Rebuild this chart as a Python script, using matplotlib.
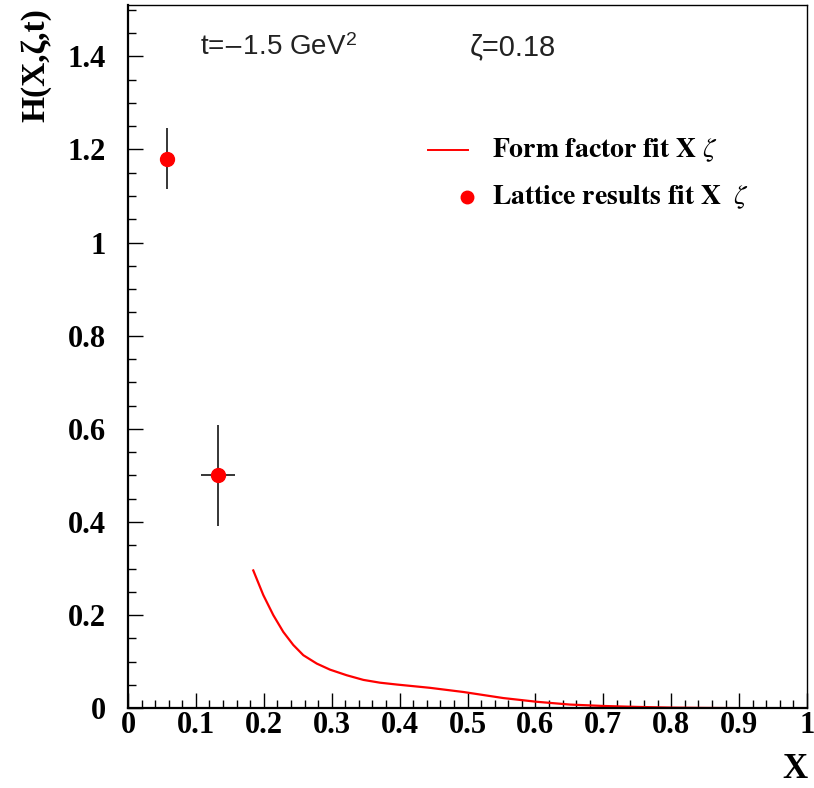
import matplotlib
matplotlib.use("Agg")
import matplotlib.pyplot as plt
from matplotlib.ticker import MultipleLocator

plt.rcParams["mathtext.fontset"] = "stix"

# Form factor fit curve H(X, zeta, t)
fit_x = [0.1845, 0.1993, 0.214, 0.2287, 0.2434, 0.2582, 0.278, 0.2975, 0.322,
         0.3466, 0.371, 0.396, 0.4445, 0.494, 0.5527, 0.602, 0.651, 0.700,
         0.749, 0.80, 0.85, 0.90, 0.954]
fit_y = [0.296, 0.243, 0.200, 0.164, 0.136, 0.114, 0.096, 0.083, 0.071,
         0.061, 0.055, 0.051, 0.044, 0.035, 0.022, 0.014, 0.008, 0.005,
         0.003, 0.0015, 0.0008, 0.0004, 0.0]

# Lattice results
lat_x = [0.057, 0.132]
lat_y = [1.18, 0.50]
lat_xerr = [0.0, 0.025]
lat_yerr = [0.066, 0.109]

x_ticks = [i / 10 for i in range(11)]
x_labels = ["0", "0.1", "0.2", "0.3", "0.4", "0.5", "0.6", "0.7", "0.8",
            "0.9", "1"]
y_ticks = [0, 0.2, 0.4, 0.6, 0.8, 1.0, 1.2, 1.4]
y_labels = ["0", "0.2", "0.4", "0.6", "0.8", "1", "1.2", "1.4"]

fig = plt.figure(figsize=(8.14, 7.88), dpi=100)
ax = fig.add_axes([128 / 814, 1 - 708.3 / 788, 679 / 814, 703.3 / 788])

ax.plot(fit_x, fit_y, color="#ff0000", lw=1.6, solid_joinstyle="round")
ax.errorbar(lat_x, lat_y, xerr=lat_xerr, yerr=lat_yerr, fmt="none",
            ecolor="black", elinewidth=1.1, capsize=0, zorder=2)
ax.plot(lat_x, lat_y, "o", color="#ff0000", ms=10, mec="#ff0000", zorder=3)

ax.set_xlim(0, 1)
ax.set_ylim(0, 1.51)
ax.xaxis.set_minor_locator(MultipleLocator(0.02))
ax.yaxis.set_minor_locator(MultipleLocator(0.05))
ax.set_xticks(x_ticks)
ax.set_xticklabels(x_labels)
ax.set_yticks(y_ticks)
ax.set_yticklabels(y_labels)

ax.tick_params(which="both", direction="in", top=False, right=False,
               color="black")
ax.tick_params(which="major", length=11, width=1.0)
ax.tick_params(which="minor", length=5.5, width=1.0)
ax.tick_params(axis="x", pad=2)
ax.tick_params(axis="y", pad=16)
for lab in ax.get_xticklabels() + ax.get_yticklabels():
    lab.set_fontfamily("Liberation Serif")
    lab.set_fontweight("bold")
    lab.set_fontsize(22)

for side in ("left", "bottom"):
    ax.spines[side].set_linewidth(1.6)
for side in ("top", "right"):
    ax.spines[side].set_linewidth(1.0)

# Axis titles
fig.text(36 / 814, 1 - 8 / 788, "H(X,ζ,t)", rotation=90, ha="center", va="top",
         fontfamily="Liberation Serif", fontweight="bold", fontsize=24)
fig.text(795 / 814, 1 - 770 / 788, "X", ha="center", va="center",
         fontfamily="Liberation Serif", fontweight="bold", fontsize=25)

# Kinematics annotation
ax.text(0.106, 0.94, "t=$-$1.5 GeV$^{\\mathregular{2}}$", transform=ax.transAxes,
        ha="left", va="center", fontfamily="Liberation Sans", fontsize=20,
        color="#222222")
ax.text(0.504, 0.94, "ζ=0.18", transform=ax.transAxes, ha="left", va="center",
        fontfamily="Liberation Sans", fontsize=21, color="#222222")

# Legend
ax.plot([0.4418, 0.5007], [0.7937, 0.7937], color="#ff0000", lw=1.4,
        transform=ax.transAxes, clip_on=False)
ax.plot([0.4993], [0.7269], "o", color="#ff0000", ms=9,
        transform=ax.transAxes, clip_on=False)
ax.text(0.536, 0.7937, r"$\mathbf{Form\ factor\ fit\ X}\ \zeta$",
        transform=ax.transAxes, ha="left", va="center", fontsize=20)
ax.text(0.536, 0.7269, r"$\mathbf{Lattice\ results\ fit\ X}\ \ \zeta$",
        transform=ax.transAxes, ha="left", va="center", fontsize=20)

fig.savefig("out.png", dpi=100)
